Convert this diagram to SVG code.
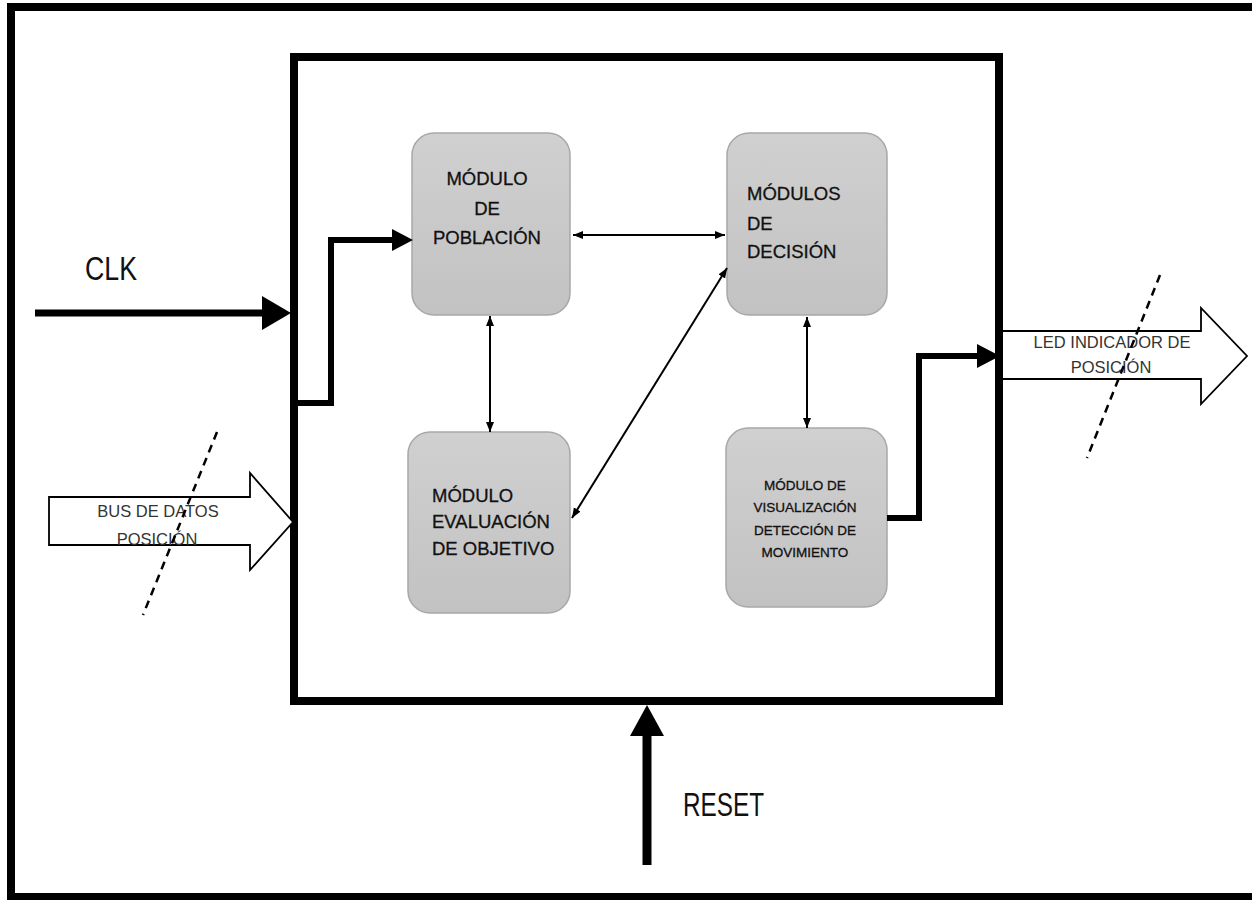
<svg xmlns="http://www.w3.org/2000/svg" width="1252" height="900" viewBox="0 0 1252 900">
<defs>
<linearGradient id="g" x1="0" y1="0" x2="0" y2="1">
<stop offset="0" stop-color="#d0d0d0"/>
<stop offset="1" stop-color="#c2c2c2"/>
</linearGradient>
<marker id="ah" markerUnits="userSpaceOnUse" markerWidth="12" markerHeight="10" refX="10" refY="4" orient="auto-start-reverse">
<path d="M0,0 L10,4 L0,8 z" fill="#000"/>
</marker>
</defs>
<style>
.frame{fill:none;stroke:#000;stroke-width:8}
.node{fill:url(#g);stroke:#a8a8a8;stroke-width:1.5}
.t{font-family:"Liberation Sans",Arial,sans-serif;fill:#111}
.nt{font-size:18.5px;stroke:#111;stroke-width:0.3}
.st{font-size:13.5px;stroke:#111;stroke-width:0.3}
.bt{font-size:16.5px;fill:#333}
.big{font-size:33px;fill:#111}
.thin{fill:none;stroke:#000;stroke-width:2;marker-start:url(#ah);marker-end:url(#ah)}
.thick{fill:none;stroke:#000}
.block{fill:#fff;stroke:#000;stroke-width:1.8}
.dash{stroke:#000;stroke-width:2.5;stroke-dasharray:8 6}
</style>
<rect x="0" y="0" width="1252" height="900" fill="#fff"/>
<rect class="frame" x="11" y="7" width="1270" height="890"/>
<g id="system">
<rect class="frame" x="294" y="57" width="705" height="644"/>
</g>
<g id="poblacion">
<rect class="node" x="412" y="133" width="158" height="182" rx="22"/>
<text class="t nt" text-anchor="middle" x="487" y="185">MÓDULO</text>
<text class="t nt" text-anchor="middle" x="487" y="215">DE</text>
<text class="t nt" text-anchor="middle" x="487" y="244">POBLACIÓN</text>
</g>
<g id="decision">
<rect class="node" x="727" y="133" width="160" height="182" rx="22"/>
<text class="t nt" x="747" y="200">MÓDULOS</text>
<text class="t nt" x="747" y="230">DE</text>
<text class="t nt" x="747" y="258">DECISIÓN</text>
</g>
<g id="evaluacion">
<rect class="node" x="408" y="432" width="162" height="181" rx="22"/>
<text class="t nt" x="432" y="502">MÓDULO</text>
<text class="t nt" x="432" y="528">EVALUACIÓN</text>
<text class="t nt" x="432" y="555">DE OBJETIVO</text>
</g>
<g id="visualizacion">
<rect class="node" x="726" y="428" width="161" height="179" rx="22"/>
<text class="t st" text-anchor="middle" x="805" y="490">MÓDULO DE</text>
<text class="t st" text-anchor="middle" x="805" y="512">VISUALIZACIÓN</text>
<text class="t st" text-anchor="middle" x="805" y="535">DETECCIÓN DE</text>
<text class="t st" text-anchor="middle" x="805" y="557">MOVIMIENTO</text>
</g>
<g id="bus">
<polygon class="block" points="49,497 250,497 250,473 293,522 250,570 250,545 49,545"/>
<text class="t bt" text-anchor="middle" x="158" y="517">BUS DE DATOS</text>
<text class="t bt" text-anchor="middle" x="157" y="545">POSICIÓN</text>
<line class="dash" x1="217" y1="432" x2="143" y2="615"/>
</g>
<g id="led">
<path class="block" d="M1003,331 H1201 V308 L1247,356 L1201,404 V379 H1003"/>
<text class="t bt" text-anchor="middle" x="1112" y="348">LED INDICADOR DE</text>
<text class="t bt" text-anchor="middle" x="1111" y="373">POSICIÓN</text>
<line class="dash" x1="1160" y1="275" x2="1087" y2="458"/>
</g>
<g id="clk">
<text class="t big" x="85" y="280" textLength="52" lengthAdjust="spacingAndGlyphs">CLK</text>
</g>
<g id="reset">
<text class="t big" x="683" y="816" textLength="81" lengthAdjust="spacingAndGlyphs">RESET</text>
</g>
<g id="connectors">
<line class="thick" x1="35" y1="313" x2="265" y2="313" stroke-width="7"/>
<polygon points="262,296 291,313 262,330" fill="#000"/>
<path class="thick" d="M294,403 H331 V240 H394" stroke-width="6"/>
<polygon points="392,229 413,240 392,251" fill="#000"/>
<path class="thick" d="M887,518 H919 V356 H980" stroke-width="6"/>
<polygon points="977,344 1000,356 977,368" fill="#000"/>
<line class="thick" x1="647" y1="865" x2="647" y2="733" stroke-width="9"/>
<polygon points="630,736 664,736 647,705" fill="#000"/>
<line class="thin" x1="573" y1="235" x2="725" y2="235"/>
<line class="thin" x1="490" y1="316" x2="490" y2="432"/>
<line class="thin" x1="727" y1="268" x2="572" y2="518"/>
<line class="thin" x1="807" y1="317" x2="807" y2="428"/>
</g>
</svg>
